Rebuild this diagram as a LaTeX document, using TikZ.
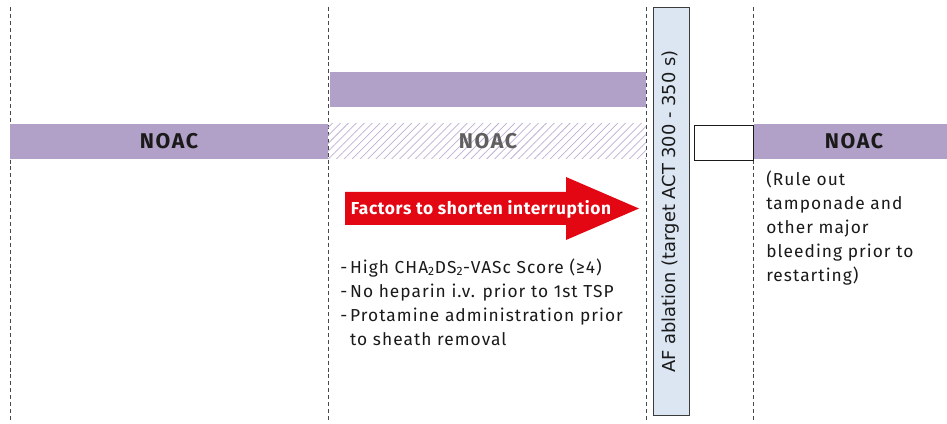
\documentclass[tikz,border=0pt]{standalone}
\usepackage{fontspec}
\setmainfont{Fira Sans}
\newfontfamily\bodyfont[LetterSpace=6]{Fira Sans}
\newfontfamily\arrowfont[LetterSpace=3.5]{Fira Sans}
\newfontfamily\barfont[LetterSpace=8]{Fira Sans}
\newfontfamily\vfont{DejaVu Sans}
\usetikzlibrary{patterns.meta}
\definecolor{noac}{HTML}{B1A0C7}
\definecolor{hatch}{HTML}{BFB0D6}
\definecolor{ablate}{HTML}{DCE6F2}
\definecolor{alert}{HTML}{E30613}
\definecolor{ink}{HTML}{1A1A1A}
\tikzset{
  guide/.style={draw=ink!80, line width=0.6pt, dash pattern=on 3pt off 2.2pt},
  barlabel/.style={font=\barfont\bfseries\fontsize{16}{18}\selectfont, text=ink},
  body/.style={font=\bodyfont\fontsize{13}{18}\selectfont, text=ink, align=left, anchor=north west, inner sep=0pt},
}
\begin{document}
\begin{tikzpicture}[x=0.75pt,y=-0.75pt]
\useasboundingbox (0,0) rectangle (947,424);
\fill[white] (0,0) rectangle (947,424);

% vertical time guides
\foreach \gx/\gn in {10/ga,328/gb,646/gc,753/gd}{
  \coordinate (\gn top) at (\gx,7);
  \coordinate (\gn bot) at (\gx,421);
  \draw[guide] (\gn top) -- (\gn bot);
}

% anticoagulation bars
\fill[noac] (10,124) rectangle (328,159);
\node[barlabel] (noac1) at (169,141.5) {NOAC};
\fill[noac] (330,72) rectangle (646,107);
\path[pattern={Lines[angle=45,distance=4.2pt,line width=0.55pt]}, pattern color=hatch] (328,124) rectangle (646,159);
\node[barlabel, text=ink!70] (noac2) at (488,141.5) {NOAC};
\fill[noac] (754,124) rectangle (947,159);
\node[barlabel] (noac3) at (854,141.5) {NOAC};
\draw[ink, line width=0.7pt] (694,125) rectangle (753,160);

% ablation column
\draw[ink!85, line width=0.7pt, fill=ablate] (653,7) rectangle (689,415);
\node[rotate=90, font=\vfont\fontsize{13.4}{15}\selectfont, text=ink] (abl) at (671,211.5) {AF ablation (target ACT 300 - 350 s)};

% arrow
\fill[alert] (345,192) -- (566,192) -- (566,177) -- (639,208.5) -- (566,240) -- (566,225) -- (345,225) -- cycle;
\node[font=\arrowfont\bfseries\fontsize{13}{15}\selectfont, text=white] (fac) at (481,209) {Factors to shorten interruption};

% factor list
\node[body] (list) at (340,256) {\begin{tabular}{@{}l@{\,}l@{}}
- & High CHA\textsubscript{2}DS\textsubscript{2}-VASc Score (≥4)\\
- & No heparin i.v. prior to 1st TSP\\
- & Protamine administration prior\\
  & to sheath removal
\end{tabular}};

% restart note
\node[body] (note) at (766,171) {(Rule out\\tamponade and\\other major\\bleeding prior to\\restarting)};
\end{tikzpicture}
\end{document}
